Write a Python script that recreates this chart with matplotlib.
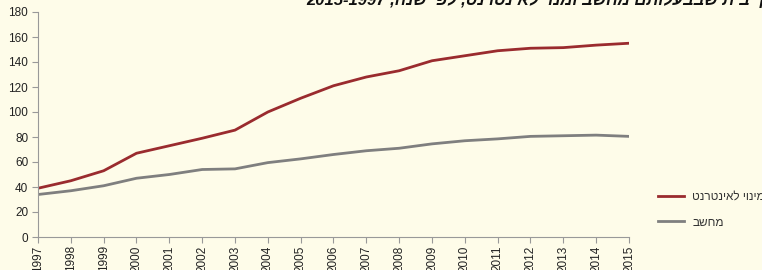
import re
import matplotlib
matplotlib.use("Agg")
import matplotlib.pyplot as plt

plt.rcParams['font.family'] = ['Liberation Sans', 'DejaVu Sans']

years = list(range(1997, 2016))
internet = [39, 45, 53, 67, 73, 79, 85.5, 100, 111, 121, 128, 133, 141, 145, 149, 151, 151.5, 153.5, 155]
computer = [34, 37, 41, 47, 50, 54, 54.5, 59.5, 62.5, 66, 69, 71, 74.5, 77, 78.5, 80.5, 81, 81.5, 80.5]
labels = ['מינוי לאינטרנט', 'מחשב']
title = 'משקי בית שבבעלותם מחשב ומנוי לאינטרנט, לפי שנה, 1997-2015'


def rtl(s):
    # matplotlib has no bidi support: reverse the text, keep each number's digits in order
    r = s[::-1]
    return re.sub(r'[0-9]+', lambda m: m.group(0)[::-1], r)


bg = '#FEFCE9'
fig = plt.figure(figsize=(7.62, 2.70), dpi=100, facecolor=bg)
ax = fig.add_axes([38 / 762, 1 - 237 / 270, (629 - 38) / 762, (237 - 12) / 270])
ax.set_facecolor(bg)

ax.plot(years, internet, color='#9A2B2E', lw=2.0, label=rtl(labels[0]))
ax.plot(years, computer, color='#7F7F7F', lw=2.0, label=rtl(labels[1]))

ax.set_xlim(1997, 2015)
ax.set_ylim(0, 180)
ax.set_xticks(years)
ax.set_xticklabels([str(y) for y in years], rotation=90, fontsize=8.5, color='#222222')
ax.set_yticks(range(0, 181, 20))
ax.tick_params(axis='y', labelsize=8.5, colors='#222222', length=4, width=0.8, color='#999999', pad=3)
ax.tick_params(axis='x', length=4, width=0.8, color='#999999', pad=2)

for s in ['top', 'right']:
    ax.spines[s].set_visible(False)
for s in ['left', 'bottom']:
    ax.spines[s].set_color('#999999')
    ax.spines[s].set_linewidth(0.8)

fig.legend(loc='upper left', bbox_to_anchor=(658 / 762, 1 - 191 / 270),
           frameon=False, fontsize=8.5, borderpad=0, borderaxespad=0,
           handlelength=2.2, handletextpad=0.7, labelspacing=1.15,
           labelcolor='#333333')

# title sits mostly above the top edge, as in the reference
fig.text(306 / 762, 1 - 5 / 270, rtl(title), ha='left', va='baseline', fontsize=12,
         fontweight='bold', fontstyle='italic', color='#111111')

fig.savefig('out.png', dpi=100, facecolor=bg)
